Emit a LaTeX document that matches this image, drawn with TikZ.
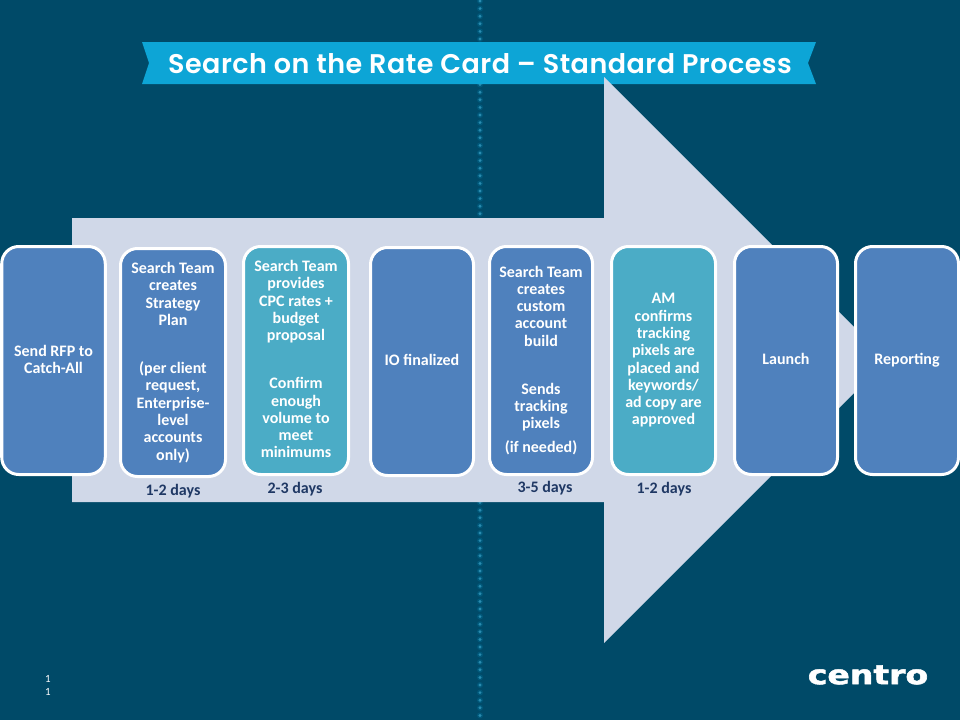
\documentclass[tikz,border=0pt]{standalone}
\usepackage{fontspec}
\usepackage{graphicx}
\setmainfont{Carlito}
\newfontfamily\titlefont{Poppins SemiBold}[LetterSpace=1.8]
\newfontfamily\logofont{DejaVu Sans Bold}[FakeBold=1.8]
\definecolor{bgc}{HTML}{004A68}
\definecolor{arrowc}{HTML}{D0D8E8}
\definecolor{bluec}{HTML}{4F81BD}
\definecolor{tealc}{HTML}{4BACC6}
\definecolor{bannerc}{HTML}{0DA5D6}
\definecolor{dayc}{HTML}{1F3864}
\definecolor{dotc}{HTML}{2A8CB0}
\definecolor{haloc}{HTML}{00587A}
\tikzset{
  card/.style={draw=white,line width=3pt,rounded corners=17pt,minimum height=228pt,
    inner sep=0pt,outer sep=0pt,text=white,align=center,
    font=\fontsize{16}{17.3}\selectfont\bfseries},
  bluecard/.style={card,fill=bluec},
  tealcard/.style={card,fill=tealc},
  daylabel/.style={text=dayc,inner sep=0pt,font=\fontsize{16}{17}\selectfont\bfseries}
}
\begin{document}
\begin{tikzpicture}[x=1pt,y=-1pt]
\useasboundingbox (0,0) rectangle (960,720);
\fill[bgc] (0,0) rectangle (960,720);
\foreach \k in {0,...,94} {
  \fill[haloc] (480,{1+7.6*\k}) circle (3pt);
  \fill[dotc] (480,{1+7.6*\k}) circle (1.6pt);}
\fill[bannerc] (142,42) -- (816,42) -- (808,63) -- (816,84) -- (142,84) -- (149,63) -- cycle;
\fill[arrowc] (72,218) -- (604,218) -- (604,77) -- (887,360) -- (604,643) -- (604,502) -- (72,502) -- cycle;
\node[text=white,inner sep=0pt,font=\fontsize{27}{30}\selectfont\titlefont] (title) at (480,64) {Search on the Rate Card – Standard Process};
\node[bluecard,minimum width=103.5pt] (b1) at (53.5,360.5) {Send RFP to\\Catch-All\vphantom{g}};
\node[bluecard,minimum width=105pt] (b2) at (173,362.5) {Search Team\\creates\\Strategy\\Plan\\[30.7pt](per client\\request,\\Enterprise-\\level\\accounts\\only)};
\node[tealcard,minimum width=105pt] (b3) at (296,360.5) {Search Team\\provides\\CPC rates +\\budget\\proposal\\[30.7pt]Confirm\\enough\\volume to\\meet\\minimums\vphantom{g}};
\node[bluecard,minimum width=103pt] (b4) at (422,361.5) {IO finalized\vphantom{g}};
\node[bluecard,minimum width=103pt] (b5) at (541,360.5) {Search Team\\creates\\custom\\account\\build\\[30.7pt]Sends\\tracking\\pixels\\[6.7pt](if needed)};
\node[tealcard,minimum width=104pt] (b6) at (663.5,360.5) {AM\\confirms\\tracking\\pixels are\\placed and\\keywords/\\ad copy are\\approved};
\node[bluecard,minimum width=103pt] (b7) at (786,360.5) {Launch\vphantom{g}};
\node[bluecard,minimum width=103pt] (b8) at (907,360.5) {Reporting};
\node[daylabel] (d2) at (173,491) {1-2 days};
\node[daylabel] (d3) at (295,489) {2-3 days};
\node[daylabel] (d5) at (545,488) {3-5 days};
\node[daylabel] (d6) at (664,489) {1-2 days};
\node[text=white,inner sep=0pt,align=center,font=\fontsize{11}{13}\selectfont] (pg) at (48,685) {1\\1};
\node[text=white,inner sep=0pt,font=\fontsize{29}{30}\selectfont\logofont] (logo) at (868,675) {\scalebox{1.14}[0.92]{centro}};
\end{tikzpicture}
\end{document}
